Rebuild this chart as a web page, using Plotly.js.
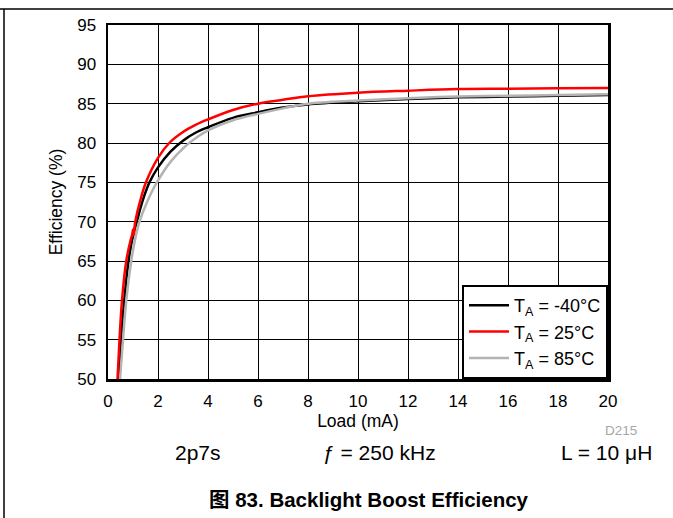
<!DOCTYPE html>
<html>
<head>
<meta charset="utf-8">
<script src="https://cdn.plot.ly/plotly-3.0.1.min.js"></script>
<style>html,body{margin:0;padding:0;background:#fff;}#chart{width:673px;height:518px;}</style>
</head>
<body>
<div id="chart"></div>
<script>
// Load (mA) and Efficiency (%) for each ambient temperature
const xM40 = [0.42, 0.52, 0.65, 0.82, 1.0, 1.15, 1.4, 1.66, 2.0, 2.5, 3.0, 3.5, 4.0, 5.0, 6.0, 7.0, 8.0, 10.0, 12.0, 14.0, 16.0, 18.0, 20.0];
const yM40 = [50, 55, 60, 65, 68.2, 70, 72.8, 75, 76.9, 78.9, 80.3, 81.3, 82.0, 83.2, 83.9, 84.5, 84.9, 85.3, 85.6, 85.8, 85.9, 86.0, 86.1];

const x25 = [0.38, 0.46, 0.56, 0.73, 0.9, 0.97, 1.0, 1.03, 1.06, 1.09, 1.3, 1.52, 2.0, 2.45, 3.0, 3.5, 4.0, 5.0, 6.0, 7.0, 8.0, 10.0, 12.0, 14.0, 16.0, 18.0, 20.0];
const y25 = [50, 55, 60, 65, 67.6, 68.4, 69.0, 68.3, 69.3, 70, 72.8, 75, 78.1, 80, 81.4, 82.3, 83.0, 84.2, 85.0, 85.5, 85.95, 86.4, 86.65, 86.85, 86.9, 86.95, 87.0];

const x85 = [0.48, 0.6, 0.73, 0.93, 1.1, 1.26, 1.55, 1.92, 2.5, 3.1, 3.5, 4.0, 5.0, 6.0, 7.0, 8.0, 10.0, 12.0, 14.0, 16.0, 18.0, 20.0];
const y85 = [50, 55, 60, 65, 68, 70, 72.4, 74.8, 77.6, 79.6, 80.6, 81.6, 82.9, 83.7, 84.4, 85.0, 85.4, 85.7, 85.9, 86.0, 86.1, 86.2];

const names = ['T<sub>A</sub> = -40°C', 'T<sub>A</sub> = 25°C', 'T<sub>A</sub> = 85°C'];
const xTicks = [0, 2, 4, 6, 8, 10, 12, 14, 16, 18, 20];
const yTicks = [50, 55, 60, 65, 70, 75, 80, 85, 90, 95];

const FONT = 'Liberation Sans, Arial, Noto Sans CJK SC, sans-serif';

const traces = [
  {x: xM40, y: yM40, name: names[0], mode: 'lines', line: {color: '#000000', width: 2.5, shape: 'spline', smoothing: 1}, legendrank: 1},
  {x: x85, y: y85, name: names[2], mode: 'lines', line: {color: '#b3b3b3', width: 2.5, shape: 'spline', smoothing: 1}, legendrank: 3},
  {x: x25, y: y25, name: names[1], mode: 'lines', line: {color: '#ff0000', width: 2.5, shape: 'spline', smoothing: 1}, legendrank: 2}
];

// pixel -> paper helpers (plot area 108..608 x 25..379)
const L = 108, T = 25, W = 500, H = 354;
const px = v => (v - L) / W;
const py = v => 1 - (v - T) / H;

const layout = {
  width: 673, height: 518,
  margin: {l: L, r: 673 - L - W, t: T, b: 518 - T - H, pad: 0},
  paper_bgcolor: '#ffffff', plot_bgcolor: '#ffffff',
  font: {family: FONT, size: 17, color: '#000'},
  showlegend: true,
  legend: {
    x: 1, y: 0, xanchor: 'right', yanchor: 'bottom',
    bgcolor: '#ffffff', bordercolor: '#000000', borderwidth: 2,
    font: {family: FONT, size: 18, color: '#000'},
    tracegroupgap: 0, itemwidth: 40
  },
  xaxis: {
    range: [0, 20], tickvals: xTicks, ticktext: xTicks.map(String),
    showgrid: true, gridcolor: '#000000', gridwidth: 1,
    showline: true, linecolor: '#000000', linewidth: 2.5, mirror: true,
    ticks: 'outside', ticklen: 5, tickcolor: 'rgba(0,0,0,0)',
    zeroline: false, tickfont: {size: 17},
    title: {text: 'Load (mA)', font: {size: 17.5}, standoff: 1}
  },
  yaxis: {
    range: [50, 95], tickvals: yTicks, ticktext: yTicks.map(String),
    showgrid: true, gridcolor: '#000000', gridwidth: 1,
    showline: true, linecolor: '#000000', linewidth: 2.5, mirror: true,
    ticks: 'outside', ticklen: 6, tickcolor: 'rgba(0,0,0,0)',
    zeroline: false, tickfont: {size: 17},
    title: {text: 'Efficiency (%)', font: {size: 17.5}, standoff: 10}
  },
  shapes: [
    {type: 'line', xref: 'paper', yref: 'paper', x0: px(0), x1: px(673), y0: py(9), y1: py(9), line: {color: '#000', width: 1.5}},
    {type: 'line', xref: 'paper', yref: 'paper', x0: px(4), x1: px(4), y0: py(9), y1: py(518), line: {color: '#000', width: 1.5}}
  ],
  annotations: [
    {text: '2p7s', xref: 'paper', yref: 'paper', x: px(198), y: py(452), xanchor: 'center', yanchor: 'middle', showarrow: false, font: {size: 21}},
    {text: 'ƒ = 250 kHz', xref: 'paper', yref: 'paper', x: px(379), y: py(452), xanchor: 'center', yanchor: 'middle', showarrow: false, font: {size: 21}},
    {text: 'L = 10 μH', xref: 'paper', yref: 'paper', x: px(606), y: py(452), xanchor: 'center', yanchor: 'middle', showarrow: false, font: {size: 21}},
    {text: 'D215', xref: 'paper', yref: 'paper', x: px(621), y: py(430), xanchor: 'center', yanchor: 'middle', showarrow: false, font: {size: 13.5, color: '#a6a6a6'}},
    {text: '<b>图 83. Backlight Boost Efficiency</b>', xref: 'paper', yref: 'paper', x: px(369), y: py(499), xanchor: 'center', yanchor: 'middle', showarrow: false, font: {size: 20.5}}
  ]
};

Plotly.newPlot('chart', traces, layout, {displayModeBar: false, staticPlot: true});
</script>
</body>
</html>
